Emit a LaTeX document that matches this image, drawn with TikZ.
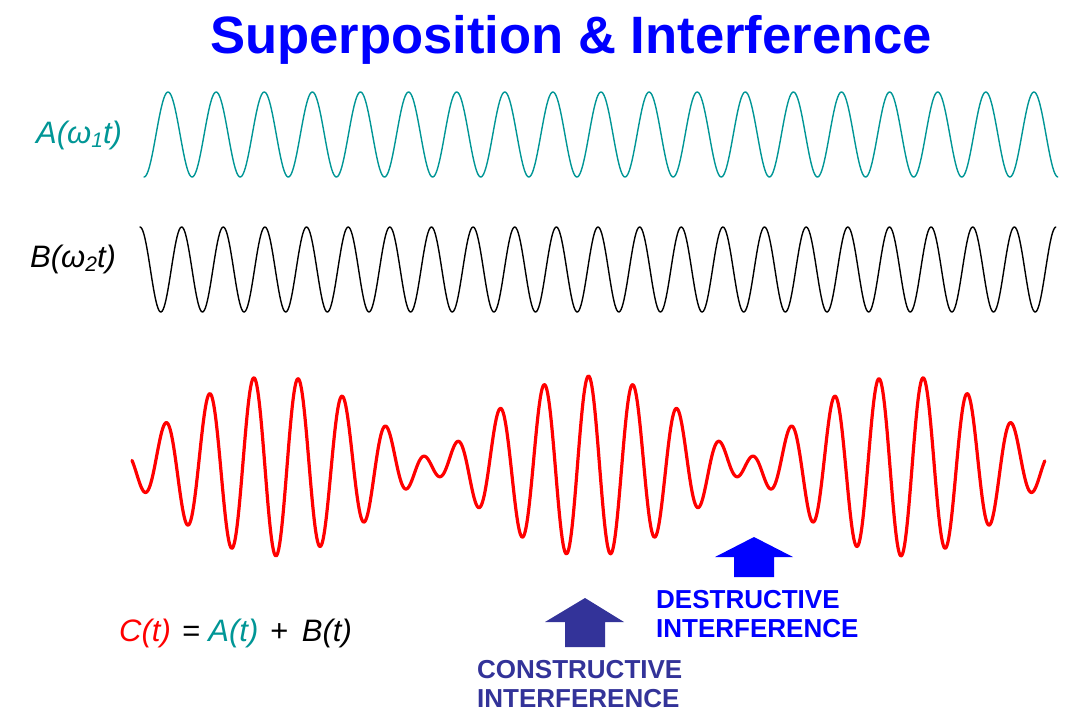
\documentclass[tikz,border=0pt]{standalone}
\usepackage{fontspec}
\setmainfont{Liberation Sans}
\definecolor{tealA}{RGB}{0,150,150}
\definecolor{constr}{RGB}{51,51,153}
\definecolor{destr}{RGB}{0,0,255}
\tikzset{
  wavestyle/.style={line join=round, line cap=round},
  lbl/.style={inner sep=0pt, anchor=base west, font=\fontsize{31}{34}\selectfont\itshape},
  note/.style={inner sep=0pt, anchor=base west, align=left, font=\fontsize{26}{28.5}\selectfont\bfseries},
  blockarrow/.style={draw=none}
}
\begin{document}
\begin{tikzpicture}[x=1pt,y=-1pt]
\fill[white] (0,0) rectangle (1069,724);
\useasboundingbox (0,0) rectangle (1069,724);
% title
\node[inner sep=0pt, anchor=base, text=blue, font=\fontsize{52.6}{60}\selectfont\bfseries] (title) at (571,53) {Superposition \& Interference};
% wave A
\draw[tealA, line width=1.4pt, wavestyle] plot[domain=0:1, samples=900, variable=\u] ({144+914*\u}, {134.5+42.5*cos(360*19*\u)});
% wave B
\draw[black, line width=1.4pt, wavestyle] plot[domain=0:1, samples=900, variable=\u] ({140+916*\u}, {269.5-42.5*cos(360*22*\u)});
% wave C
\draw[red, line width=3.2pt, wavestyle] plot[domain=0:1, samples=1000, variable=\u] ({132+913*\u}, {466-49*cos(360*21.9*(\u-0.5))-41*cos(360*19*(\u-0.5))});
% labels
\node[lbl, text=tealA] (la) at (36,143) {A(ω\raisebox{-0.3ex}{\fontsize{21}{21}\selectfont 1}t)};
\node[lbl, text=black] (lb) at (30,267) {B(ω\raisebox{-0.3ex}{\fontsize{21}{21}\selectfont 2}t)};
\node[lbl] (lc) at (119,641) {\textcolor{red}{C(t)}\hspace{11pt}=\hspace{8.5pt}\textcolor{tealA}{A(t)}\hspace{11.5pt}+\hspace{14pt}B(t)};
% arrows
\fill[constr, blockarrow] (585,598) -- (624,622) -- (605,622) -- (605,647) -- (565,647) -- (565,622) -- (545,622) -- cycle;
\fill[destr, blockarrow] (754,537) -- (793,557) -- (774,557) -- (774,577) -- (734,577) -- (734,557) -- (715,557) -- cycle;
% notes
\node[note, text=destr] (dnote) at (656,637) {DESTRUCTIVE\\INTERFERENCE};
\node[note, text=constr] (cnote) at (477,707) {CONSTRUCTIVE\\INTERFERENCE};
\end{tikzpicture}
\end{document}
